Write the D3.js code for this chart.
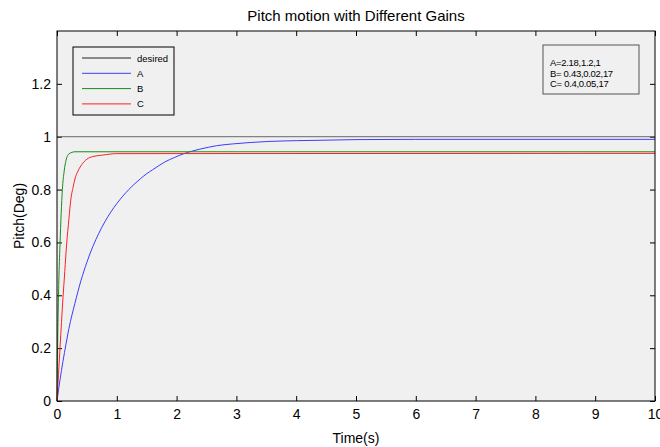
<!DOCTYPE html>
<html lang="en">
<head>
  <meta charset="UTF-8">
  <title>Pitch motion with Different Gains</title>
  <script src="https://d3js.org/d3.v7.min.js"></script>
  <style>
    body { margin: 0; background: #fff; font-family: "Liberation Sans", Arial, sans-serif; }
    .tick text { font-family: "Liberation Sans", Arial, sans-serif; font-size: 14px; fill: #000; }
    .tick line { stroke: #000; }
    .curve { fill: none; stroke-width: 1px; }
  </style>
</head>
<body>
  <div id="chart"></div>
  <script>
    // time (s), pitch (deg)
    const desired = [[0, 1], [10, 1]];
    const seriesA = [
      [0, 0], [0.05, 0.08], [0.1, 0.15], [0.15, 0.215], [0.2, 0.275], [0.3, 0.37],
      [0.4, 0.455], [0.5, 0.525], [0.6, 0.585], [0.7, 0.635], [0.8, 0.678], [0.9, 0.715],
      [1.0, 0.747], [1.1, 0.775], [1.2, 0.80], [1.3, 0.822], [1.4, 0.842], [1.5, 0.86],
      [1.6, 0.875], [1.7, 0.89], [1.8, 0.904], [1.97, 0.922], [2.11, 0.935], [2.25, 0.945],
      [2.39, 0.953], [2.53, 0.96], [2.67, 0.966], [2.95, 0.973], [3.23, 0.978], [3.53, 0.982],
      [4.0, 0.985], [4.5, 0.987], [5, 0.989], [6, 0.99], [10, 0.99]
    ];
    const seriesB = [
      [0, 0], [0.01, 0.2], [0.03, 0.45], [0.05, 0.59], [0.07, 0.71], [0.09, 0.80],
      [0.12, 0.87], [0.15, 0.91], [0.2, 0.935], [0.3, 0.943], [10, 0.943]
    ];
    const seriesC = [
      [0, 0], [0.05, 0.2], [0.1, 0.39], [0.13, 0.49], [0.16, 0.59], [0.2, 0.69],
      [0.23, 0.76], [0.27, 0.81], [0.3, 0.84], [0.35, 0.87], [0.4, 0.89], [0.5, 0.915],
      [0.6, 0.925], [0.75, 0.93], [1.0, 0.936], [10, 0.937]
    ];
    const xTicks = [0, 1, 2, 3, 4, 5, 6, 7, 8, 9, 10];
    const yTicks = [0, 0.2, 0.4, 0.6, 0.8, 1, 1.2];
    const legendNames = ["desired", "A", "B", "C"];
    const legendColors = ["#222", "#3c3cff", "#1a8a1a", "#ff2020"];
    const gainLines = ["A=2.18,1.2,1", "B= 0.43,0.02,17", "C= 0.4,0.05,17"];

    const W = 660, H = 447;
    const margin = { top: 31, right: 5, bottom: 46, left: 57 };
    const width = W - margin.left - margin.right;
    const height = H - margin.top - margin.bottom;

    const svgRoot = d3.select("#chart").append("svg")
      .attr("width", W).attr("height", H);
    const svg = svgRoot.append("g")
      .attr("transform", `translate(${margin.left},${margin.top})`);

    const x = d3.scaleLinear().domain([0, 10]).range([0, width]);
    const y = d3.scaleLinear().domain([0, 1.4]).range([height, 0]);

    // plot background
    svg.append("rect")
      .attr("width", width).attr("height", height)
      .attr("fill", "#f0f0f0");

    const fmt = d => String(+d.toFixed(1));

    // axes with inward ticks (all four sides)
    svg.append("g")
      .attr("transform", `translate(0,${height})`)
      .call(d3.axisBottom(x).tickValues(xTicks).tickFormat(fmt).tickSizeInner(-5).tickSizeOuter(0).tickPadding(8))
      .call(g => g.select(".domain").remove());
    svg.append("g")
      .call(d3.axisTop(x).tickValues(xTicks).tickFormat("").tickSizeInner(-5).tickSizeOuter(0))
      .call(g => g.select(".domain").remove());
    svg.append("g")
      .call(d3.axisLeft(y).tickValues(yTicks).tickFormat(fmt).tickSizeInner(-5).tickSizeOuter(0).tickPadding(6))
      .call(g => g.select(".domain").remove());
    svg.append("g")
      .attr("transform", `translate(${width},0)`)
      .call(d3.axisRight(y).tickValues(yTicks).tickFormat("").tickSizeInner(-5).tickSizeOuter(0))
      .call(g => g.select(".domain").remove());

    const line = d3.line()
      .x(d => x(d[0]))
      .y(d => y(d[1]))
      .curve(d3.curveMonotoneX);

    const data = [desired, seriesA, seriesB, seriesC];
    data.forEach((s, i) => {
      svg.append("path")
        .datum(s)
        .attr("class", "curve")
        .attr("stroke", i === 0 ? "#666" : legendColors[i])
        .attr("d", line);
    });

    // frame
    svg.append("rect")
      .attr("width", width).attr("height", height)
      .attr("fill", "none").attr("stroke", "#000").attr("stroke-width", 1);

    // title and axis labels
    svgRoot.append("text")
      .attr("x", margin.left + width / 2).attr("y", 21)
      .attr("text-anchor", "middle")
      .attr("font-size", "15px")
      .text("Pitch motion with Different Gains");

    svgRoot.append("text")
      .attr("x", margin.left + width / 2).attr("y", 443)
      .attr("text-anchor", "middle")
      .attr("font-size", "14px")
      .text("Time(s)");

    svgRoot.append("text")
      .attr("transform", `translate(24,${margin.top + height / 2}) rotate(-90)`)
      .attr("text-anchor", "middle")
      .attr("font-size", "14px")
      .text("Pitch(Deg)");

    // legend
    const legend = svgRoot.append("g").attr("transform", "translate(73,47)");
    legend.append("rect")
      .attr("width", 101).attr("height", 68)
      .attr("fill", "none").attr("stroke", "#000");
    const item = legend.selectAll(".item")
      .data(legendNames)
      .enter().append("g")
      .attr("transform", (d, i) => `translate(0,${11 + i * 15.3})`);
    item.append("line")
      .attr("x1", 9).attr("x2", 58)
      .attr("stroke", (d, i) => legendColors[i]);
    item.append("text")
      .attr("x", 64).attr("y", 3.5)
      .attr("font-size", "9.5px")
      .text(d => d);

    // gains box
    const gains = svgRoot.append("g").attr("transform", "translate(543,45)");
    gains.append("rect")
      .attr("width", 96).attr("height", 49)
      .attr("fill", "none").attr("stroke", "#555");
    gains.selectAll("text")
      .data(gainLines)
      .enter().append("text")
      .attr("x", 7)
      .attr("y", (d, i) => 21 + i * 10.5)
      .attr("font-size", "9.5px")
      .attr("letter-spacing", "-0.3px")
      .text(d => d);
  </script>
</body>
</html>
